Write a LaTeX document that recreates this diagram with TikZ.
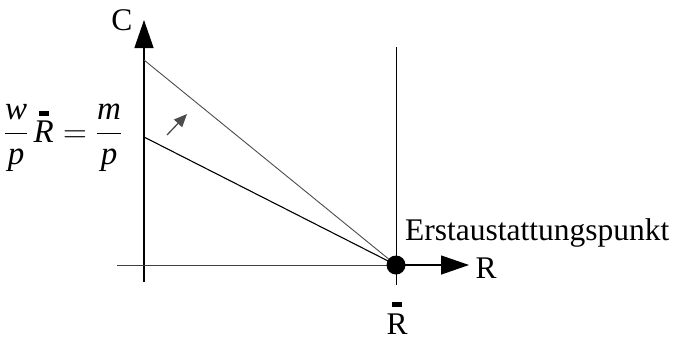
\RequirePackage{fix-cm}
\documentclass[tikz,border=0pt]{standalone}
\usepackage{amsmath}
\usepackage{fontspec}
\setmainfont{Liberation Serif}
\usetikzlibrary{arrows.meta}
\begin{document}
\begin{tikzpicture}[x=1pt,y=-1pt,font=\fontsize{31.5}{36}\selectfont,
  bigtip/.style={-{Triangle[length=28pt,width=19pt]}}]
\useasboundingbox (0,0) rectangle (677,341);
\coordinate (origin) at (144,265);
\coordinate (ctop) at (144,20);
\coordinate (cbot) at (144,282);
\coordinate (rleft) at (117,265);
\coordinate (rright) at (469,265);
\coordinate (hi) at (144,60);
\coordinate (lo) at (144,137);
\coordinate (vtop) at (396,47);
\coordinate (vbot) at (396,285);
% axes
\draw[line width=1.3pt,bigtip] (cbot) -- (ctop);
\draw[line width=1pt,black!75] (rleft) -- (396,265);
\draw[line width=1.3pt,bigtip] (396,265) -- (rright);
\draw[line width=0.9pt] (vtop) -- (vbot);
% budget lines
\draw[line width=0.9pt,black!70] (hi) -- (396,265);
\draw[line width=1.1pt] (lo) -- (396,265);
\node[circle,fill,inner sep=0pt,minimum size=19pt] (endow) at (396,265) {};
\draw[line width=1.3pt,black!70,-{Triangle[length=13pt,width=11pt]}] (167,135) -- (187,114);
% labels
\node (clab) at (122,20) {C};
\node (rlab) at (486,268) {R};
\node[anchor=west,inner sep=0pt] (elab) at (405,233) {Erstaustattungspunkt};
\node (rbar) at (397,318) {\shortstack{\rule{10pt}{5pt}\\[4pt]R}};
\node (budget) at (63,138) {\fontsize{33}{38}\selectfont$\dfrac{\textit{w}}{\textit{p}}\,\overset{\rule{10pt}{5pt}}{\textit{R}}=\dfrac{\textit{m}}{\textit{p}}$};
\end{tikzpicture}
\end{document}
